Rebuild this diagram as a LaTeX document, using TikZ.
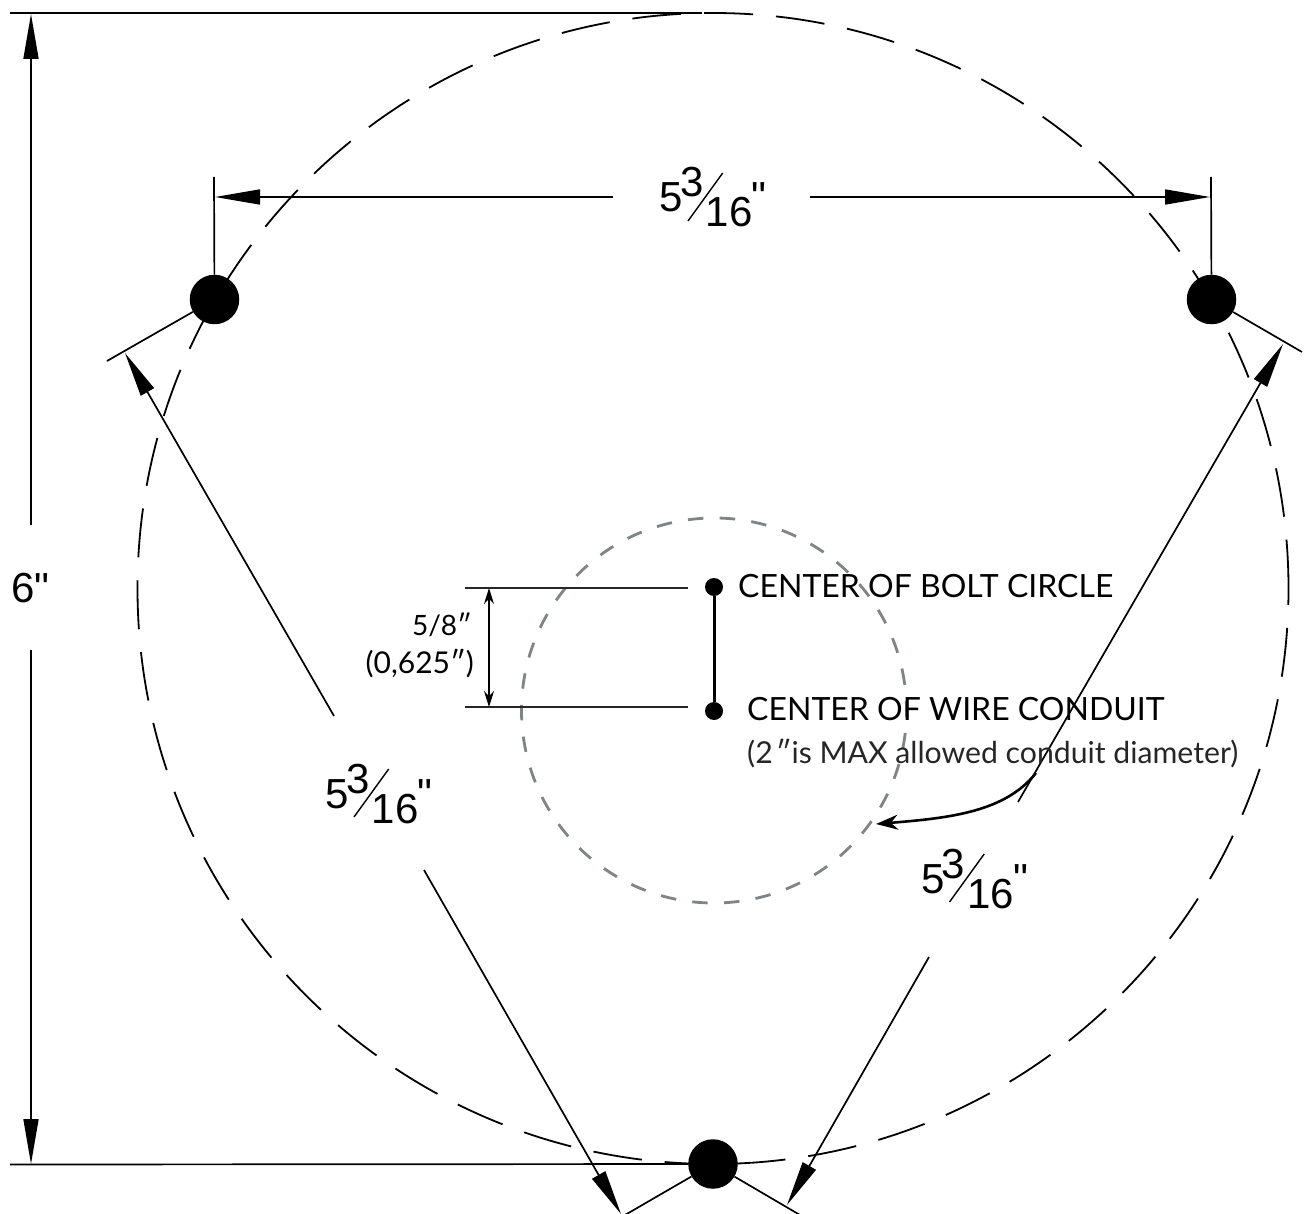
\documentclass[tikz,border=0pt]{standalone}
\usepackage{fontspec}
\usetikzlibrary{arrows.meta}
\newfontfamily\dimfont{Liberation Sans}
\newfontfamily\lblfont{Lato}
\newcommand{\szA}{\dimfont\fontsize{42}{42}\selectfont}
\definecolor{graycirc}{HTML}{7F8487}
\tikzset{
  dimline/.style={line width=1.7pt,black},
  thinline/.style={line width=1.2pt,black!85},
  bigdash/.style={line width=1.8pt,black,dash pattern=on 49pt off 23pt},
  graydash/.style={line width=2.8pt,color=graycirc,dash pattern=on 15.5pt off 16.3pt},
  head/.style={-{Triangle[length=45pt,width=15pt]}},
  dotnode/.style={circle,fill=black,inner sep=0pt,minimum size=49.5pt},
  smalldot/.style={circle,fill=black,inner sep=0pt,minimum size=18pt},
  dimtext/.style={inner sep=0pt,anchor=base west,font=\szA},
  lbl/.style={inner sep=0pt,anchor=base west,text=black},
  smalllbl/.style={inner sep=0pt,anchor=base east},
}
\newcommand{\fracdim}[3]{%
  \begin{scope}[shift={(#2,#3)}]
    \node[dimtext] (#1five) at (-0.5,0) {5};
    \node[dimtext] (#1three) at (20,-15) {3};
    \node[dimtext] (#1six) at (45.5,15) {16};
    \coordinate (#1sa) at (28,9);
    \coordinate (#1sb) at (62.7,-39);
    \draw[line width=1.4pt] (#1sa) -- (#1sb);
    \node[dimtext] (#1q) at (91.5,0) {"};
  \end{scope}}
\begin{document}
\begin{tikzpicture}[x=1pt,y=-1pt]
\clip (0,0) rectangle (1304,1214);
\fill[white] (0,0) rectangle (1304,1214);
% circles
\draw[bigdash] (1288.5,588.5) arc (0:-360:575.5);
\draw[graydash] ({714+192.5*cos(-7.98)},{710.5+192.5*sin(-7.98)}) arc (-7.98:-367.98:192.5);
% dots
\node[dotnode] (dotL) at (214.5,299.5) {};
\node[dotnode] (dotR) at (1211.5,299.5) {};
\node[dotnode] (dotB) at (713,1164) {};
% overall height dimension
\coordinate (topa) at (10,13);
\coordinate (topb) at (702,13);
\coordinate (bota) at (10,1164.5);
\draw[dimline] (topa) -- (topb);
\draw[dimline] (bota) -- (dotB);
\coordinate (va) at (31,525);
\coordinate (vat) at (31,14);
\coordinate (vb) at (31,650);
\coordinate (vbt) at (31,1164);
\draw[dimline,head] (va) -- (vat);
\draw[dimline,head] (vb) -- (vbt);
\node[inner sep=0pt,font=\szA] (six) at (30.5,588) {6"};
% top dimension
\coordinate (extL) at (214,177);
\coordinate (extR) at (1211,177);
\draw[dimline] (dotL) -- (extL);
\draw[dimline] (dotR) -- (extR);
\coordinate (ha) at (613,197);
\coordinate (hat) at (215,197);
\coordinate (hb) at (810,197);
\coordinate (hbt) at (1210,197);
\draw[dimline,head] (ha) -- (hat);
\draw[dimline,head] (hb) -- (hbt);
\fracdim{t}{660}{212}
% tangents
\coordinate (tanL) at (107,361);
\coordinate (tanR) at (1302,352);
\coordinate (tanBL) at (625,1215);
\coordinate (tanBR) at (800,1215);
\draw[dimline] (dotL) -- (tanL);
\draw[dimline] (dotR) -- (tanR);
\draw[dimline] (dotB) -- (tanBL);
\draw[dimline] (dotB) -- (tanBR);
% radial arrows
\coordinate (ra) at (334,716);
\coordinate (rat) at (125,353);
\coordinate (rb) at (424,870);
\coordinate (rbt) at (621,1214);
\coordinate (rc) at (929,957);
\coordinate (rct) at (787,1205);
\coordinate (rd) at (1018,802);
\coordinate (rdt) at (1283,344);
\draw[dimline,head] (ra) -- (rat);
\draw[dimline,head] (rb) -- (rbt);
\draw[dimline,head] (rc) -- (rct);
\draw[dimline,head] (rd) -- (rdt);
\fracdim{l}{326}{808}
\fracdim{r}{921.5}{893}
% small dimension
\coordinate (la) at (465,588);
\coordinate (lb) at (688,588);
\coordinate (lc) at (465,707);
\coordinate (ld) at (688,707);
\draw[thinline] (la) -- (lb);
\draw[thinline] (lc) -- (ld);
\coordinate (sa) at (489,588);
\coordinate (sb) at (489,707);
\draw[line width=1.2pt,{Stealth[length=16pt,width=10pt]}-{Stealth[length=16pt,width=10pt]}] (sa) -- (sb);
\node[smalllbl,font=\lblfont\fontsize{28}{28}\selectfont] (t58) at (472,635) {5/8″};
\node[smalllbl,font=\lblfont\fontsize{30}{30}\selectfont] (t0625) at (474,673) {(0,625″)};
% centres
\node[smalldot] (c1) at (714,587) {};
\node[smalldot] (c2) at (714,711) {};
\draw[line width=3pt] (c1) -- (c2);
\node[lbl,font=\lblfont\fontsize{32}{32}\selectfont] (tb) at (738,597) {CENTER OF BOLT CIRCLE};
\node[lbl,font=\lblfont\fontsize{32}{32}\selectfont] (tw) at (747,720) {CENTER OF WIRE CONDUIT};
\node[lbl,text=black!85,font=\lblfont\fontsize{30.2}{30.2}\selectfont] (tm) at (747,763) {(2\kern3pt″is MAX allowed conduit diameter)};
% curved arrow
\coordinate (cva) at (1036,773);
\coordinate (cvb) at (876,824);
\draw[line width=2.6pt,-{Stealth[length=22pt,width=15pt]}] (cva) .. controls (1005,812) and (950,818) .. (cvb);
\end{tikzpicture}
\end{document}
